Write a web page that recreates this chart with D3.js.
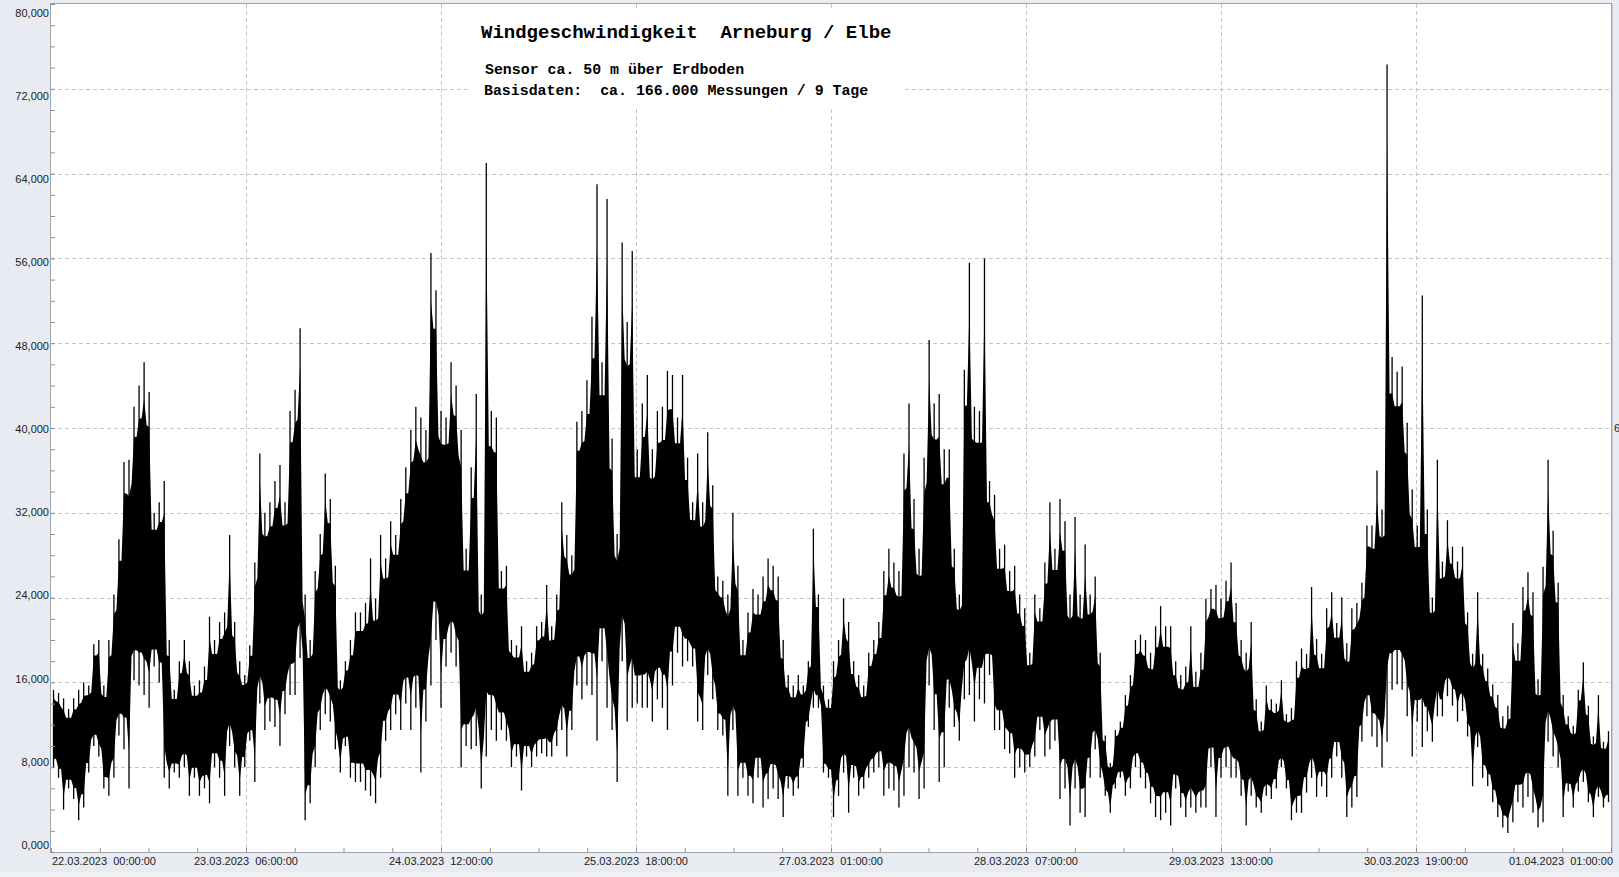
<!DOCTYPE html>
<html><head><meta charset="utf-8">
<script src="https://cdn.jsdelivr.net/npm/d3@7/dist/d3.min.js"></script>
<style>
html,body{margin:0;padding:0;background:#e8ebf1;}
svg{display:block;}
</style></head>
<body><svg id="c" width="1619" height="877"></svg>
<script>
// ---- data (unit as on the axis) ----
const xLabels = ["22.03.2023  00:00:00","23.03.2023  06:00:00","24.03.2023  12:00:00","25.03.2023  18:00:00","27.03.2023  01:00:00","28.03.2023  07:00:00","29.03.2023  13:00:00","30.03.2023  19:00:00","01.04.2023  01:00:00"];
const spanHours = 240;
const yMax = 80;
const hiVals = [
15.3,15,14.5,13.5,14.5,15.3,16,15.7,19.6,20,15.7,20,24.3,29.5,36.8,37,42,44,46.2,43.4,32,33,35,20,15.3,18,20,18,15.7,16.2,17.5,22.2,20,21.7,22.6,29.9,21.7,18,16.7,19.5,27.3,37.6,32,33,35,36.5,33,41.6,43.6,49.4,24.3,20,26.5,30,35.7,33.3,27,16.2,18,20,22.6,22.6,
23.5,27.7,23.9,29.9,27.7,31.2,29.9,33.3,36.3,39.8,42,41,39.8,56.5,53,41.6,41,46.2,44,39.8,28.6,36.3,43.2,24.3,65,41.6,41,26.5,27,20,19.5,21.3,18,18.8,21.3,21.7,25.2,21.3,24.3,33,29.9,28,40.6,41.6,44.5,50.5,63,46.2,61.6,39,30,57.5,50,56.7,38,42.3,45,38,41.6,42,45.4,45,
41,45,37.2,33,37.6,33,39.6,34.6,26,25.6,24.3,32,27,20,22.6,24.8,24.3,26,27.7,27,26,20,16.7,15.7,16.7,15.7,18,30.5,24.3,15.7,14.4,18,20,23.9,21.7,18,16.7,15.7,18.8,20,21.7,26.5,28.6,27.3,26.5,37.6,42.3,33.3,28.6,37.2,48.3,42.3,43.2,38,38,28.6,24.3,45.5,55.6,42,41.6,56,
35,33.7,28.6,29,26.5,27,24.3,23,18.8,24.3,23,27.3,33,28.6,33.3,31.2,24.3,31.6,24.3,29,24.3,26,18.8,11,8.4,11.5,12.3,14.8,16.7,20,20.5,20,18.8,21.3,23.2,21.3,21.3,18,16.7,17.5,21.3,17,18.8,23.9,24.8,25.2,23.9,25.6,27.3,23.5,20,18.8,21.7,14.4,12.3,15.7,14.4,14,16.2,13,13.6,18,
19.2,18.7,25,20.1,18.7,23,24.5,21.6,24,19.7,23,23.5,25.4,30.8,30.8,36,32.3,74.3,46.7,45.3,45.8,40.5,34.2,30.8,52.5,32.3,24,37,27.4,31.3,28.8,27.4,28.8,22.6,18.7,24.5,18.7,17.3,15.8,14.8,12.8,13.8,21.6,19.7,25,26.4,24.5,16.3,26.9,37,30.3,25.4,14.8,12.8,11.9,15.3,17.9,13.8,10.9,14.8,10.4,11.4
];
const loVals = [
8,7,4,6,5,3,4.2,7.5,10,9,6,5.3,7,11,9.7,6,16.2,15.7,14.8,13.6,17.5,16,7,6,7.5,7,8,5.3,7,5.3,6,4.6,8,7,5.3,10,8,5.3,8,10.5,6.6,14,11.5,12.3,11.8,10,13,14.8,14.8,18.3,3,4.6,8,11.5,13,12.3,9.7,7.5,10,7,6.6,6.6,
5.8,5.3,4.6,7,10.5,11.5,13,11.5,14,11.5,13.6,7.5,12.3,15.7,20,13.6,17.5,18.8,17.5,8,10,9.7,10,6,9,11.5,10.5,11.5,10.5,8,9,5.8,9,8,9,9.3,9,9,10,11.5,9,11.5,15.7,14.4,15.7,14.8,10.5,18,13.6,11.5,6.6,18,12.3,13.6,14,13.6,13.6,12.3,14.4,13.6,11.5,15.7,
18.8,17.5,18,17.5,12.3,11.5,16.7,14.4,11.5,11,5.3,11.5,5.3,7,5.3,4.6,7,4.2,5,6,5,3.3,6,5.3,6,8,11.8,13.6,13.6,7.5,7,3.3,5.3,7.5,3.7,7,5.3,6,7,7.5,8,5.3,6,5.8,4.2,5.3,8,7.5,5,6,15.7,11.5,6.6,8,13.6,11.8,10.5,14.4,14.8,12.3,14.4,14,
16.7,11.5,11.5,9.7,9.3,7,8,7.5,8,9,11.5,9,9.7,10.5,5,6,2.5,6,3.7,3.3,7,9.7,7,5.3,3.7,6,7,5.3,6,8,7,6,4.6,3.3,3,3.7,2.5,6,4.2,3.3,4.2,3.7,4.2,4.2,8,3.3,7,8,7,7,5.3,2.5,5.3,4.2,3.7,5.3,5,6,8,6,3,3.7,
3.7,5.6,7,5.2,6.2,5.2,7,9,7,3.3,4.2,5.2,10.4,12.8,10.9,9.9,8,10.4,15.3,15.8,15.3,12.8,9,12.3,9.9,11.4,10.4,12.8,12.8,14.7,13.8,12.3,13.3,10.9,6.2,9.9,7,6.2,4.7,3.3,2.3,1.8,2.8,4.7,4.2,5.2,3.7,2.3,2.8,10.4,9,8,3.3,5.7,4.2,5.7,6.6,4.7,3.3,5.2,4.2,4.7
];

// ---- layout ----
const svg = d3.select("#c");
const sans = '"Liberation Sans",Arial,sans-serif';
const mono = '"Liberation Mono","Courier New",monospace';
const L = 51, R = 1611, T = 4, B = 852;
const x = d3.scaleLinear().domain([0, spanHours]).range([L, R]);
const y = d3.scaleLinear().domain([0, yMax]).range([B, T]);
const yLab = d3.scaleLinear().domain([0, yMax]).range([845, 12.5]);
const de = d3.formatLocale({decimal:",", thousands:".", grouping:[3], currency:["","€"]});
const fmt = de.format(".3f");

svg.append("rect").attr("width",1619).attr("height",877).attr("fill","#e8ebf1");
svg.append("rect").attr("x",0).attr("y",872).attr("width",1619).attr("height",5).attr("fill","#f1f2f4");
svg.append("rect").attr("x",L).attr("y",T).attr("width",R-L).attr("height",B-T).attr("fill","#ffffff");

// grid
const grid = svg.append("g").attr("stroke","#c4c4c4").attr("stroke-width",1).attr("stroke-dasharray","4,3").attr("fill","none");
d3.range(8, yMax, 8).forEach(v=>{
  grid.append("line").attr("x1",L).attr("x2",R).attr("y1",Math.round(y(v))+0.5).attr("y2",Math.round(y(v))+0.5);
});
d3.range(30, spanHours, 30).forEach(h=>{
  grid.append("line").attr("y1",T).attr("y2",B).attr("x1",Math.round(x(h))+0.5).attr("x2",Math.round(x(h))+0.5);
});

// title box
svg.append("rect").attr("x",468).attr("y",10).attr("width",435).attr("height",96).attr("fill","#ffffff");
svg.append("text").attr("x",481).attr("y",38).style("font-family",mono).attr("font-weight","bold").attr("font-size",19)
  .attr("fill","#000").style("white-space","pre").text("Windgeschwindigkeit  Arneburg / Elbe");
svg.append("text").attr("x",485).attr("y",74).style("font-family",mono).attr("font-weight","bold").attr("font-size",14.9)
  .attr("fill","#000").style("white-space","pre").text("Sensor ca. 50 m über Erdboden");
svg.append("text").attr("x",484).attr("y",95).style("font-family",mono).attr("font-weight","bold").attr("font-size",14.9)
  .attr("fill","#000").style("white-space","pre").text("Basisdaten:  ca. 166.000 Messungen / 9 Tage");

// data
const n = hiVals.length;
const step = spanHours / n;
const pts = hiVals.map((h,i)=>({t:(i+0.5)*step, hi:h, lo:loVals[i]}));
const k = 0.78;
// solid core band: column centres and column boundaries
const band = [];
pts.forEach((p,i)=>{
  const mid = (p.hi+p.lo)/2;
  band.push({t:p.t, top: mid + k*(p.hi-mid), bot: mid - k*(mid-p.lo)});
  if (i < n-1) {
    const q = pts[i+1];
    const h = Math.min(p.hi,q.hi), l = Math.max(p.lo,q.lo);
    const m = (h+l)/2;
    band.push({t:p.t+step/2, top: h>l ? m + k*(h-m) : m, bot: h>l ? m - k*(m-l) : m});
  }
});
const area = d3.area().x(d=>x(d.t)).y0(d=>y(d.bot)).y1(d=>y(d.top));
svg.append("path").datum(band).attr("d",area).attr("fill","#000");
// spikes: full min..max of each column
const sp = svg.append("g").attr("stroke","#000").attr("stroke-width",1.3);
pts.forEach(p=>{
  sp.append("line").attr("x1",x(p.t)).attr("x2",x(p.t)).attr("y1",y(p.hi)).attr("y2",y(p.lo));
});

// frame
svg.append("rect").attr("x",L-0.5).attr("y",T-0.5).attr("width",R-L+1).attr("height",B-T+1)
  .attr("fill","none").attr("stroke","#9ea3aa").attr("stroke-width",1);
svg.append("line").attr("x1",R+1.5).attr("x2",R+1.5).attr("y1",T).attr("y2",B+1).attr("stroke","#c9ced6");

// axes ticks (inward)
const yt = svg.append("g").attr("transform",`translate(${L},0)`)
  .call(d3.axisRight(y).tickValues(d3.range(0,yMax+0.001,2)).tickSize(4).tickFormat(""));
yt.select(".domain").remove();
yt.selectAll("line").attr("stroke","#8a8f96");
const xt = svg.append("g").attr("transform",`translate(0,${B})`)
  .call(d3.axisTop(x).tickValues(d3.range(0,spanHours+0.001,7.5)).tickSize(4).tickFormat(""));
xt.select(".domain").remove();
xt.selectAll("line").attr("stroke","#8a8f96");

// y labels
const yl = svg.append("g").attr("transform",`translate(${L-2},0)`)
  .call(d3.axisLeft(yLab).tickValues(d3.range(0,yMax+0.001,8)).tickSize(0).tickPadding(0).tickFormat(fmt));
yl.select(".domain").remove();
yl.selectAll("text").style("font-family",sans).attr("font-size",11).attr("fill","#222");

// x labels
const lab = svg.append("g");
xLabels.forEach((s,i)=>{
  const h = i*30;
  lab.append("text").attr("x", i===0 ? L+1 : (i===xLabels.length-1 ? R+2 : x(h)))
    .attr("y",865).style("font-family",sans).attr("font-size",11).attr("fill","#222")
    .attr("text-anchor", i===0 ? "start" : (i===xLabels.length-1 ? "end" : "middle"))
    .style("white-space","pre").text(s);
});
svg.append("text").attr("x",1614).attr("y",432).style("font-family",sans).attr("font-size",11).attr("fill","#222").text("6");
</script></body></html>
